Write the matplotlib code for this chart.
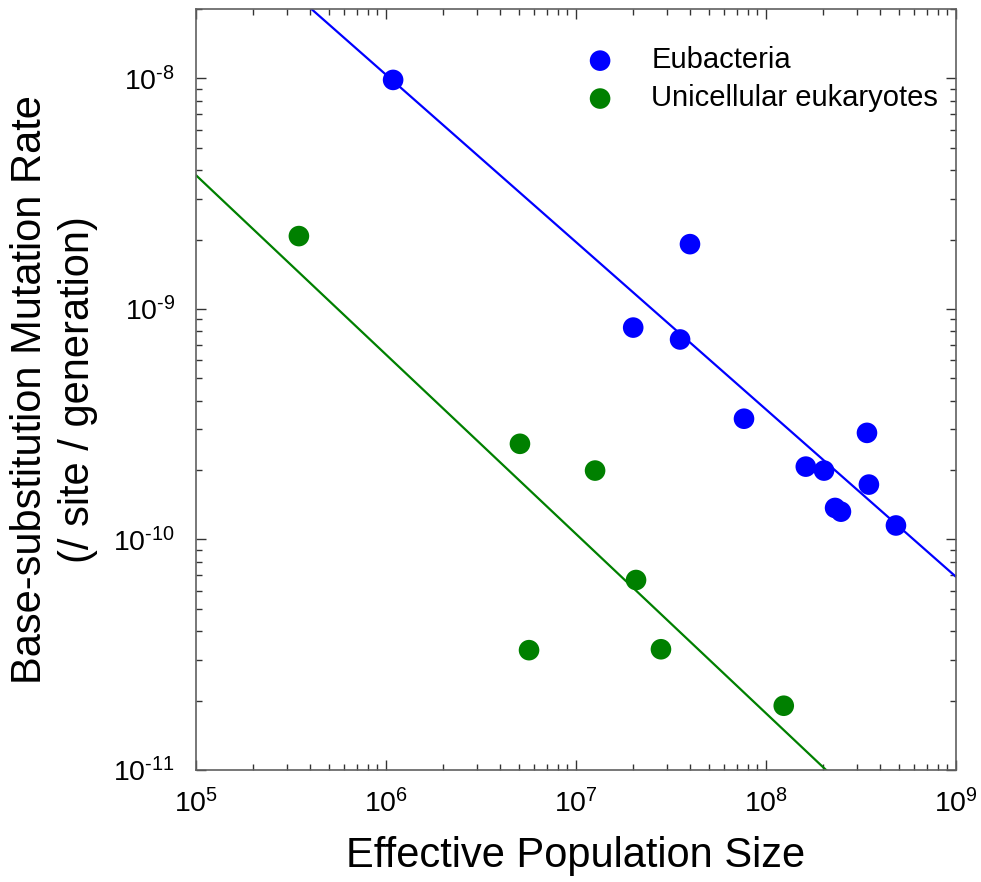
import numpy as np
import matplotlib
matplotlib.use("Agg")
import matplotlib.pyplot as plt
from matplotlib.ticker import NullFormatter, FuncFormatter

plt.rcParams['font.family'] = ['Liberation Sans', 'DejaVu Sans']
plt.rcParams['mathtext.fontset'] = 'custom'
plt.rcParams['mathtext.rm'] = 'Liberation Sans'
plt.rcParams['mathtext.it'] = 'Liberation Sans:italic'
plt.rcParams['mathtext.bf'] = 'Liberation Sans:bold'

# data
bact_ne = [1.09e6, 3.98e7, 2.0e7, 3.53e7, 7.66e7, 3.40e8, 1.62e8, 2.02e8, 3.48e8, 2.31e8, 2.48e8, 4.83e8]
bact_u = [9.85e-9, 1.91e-9, 8.3e-10, 7.37e-10, 3.34e-10, 2.9e-10, 2.07e-10, 1.99e-10, 1.73e-10, 1.37e-10, 1.32e-10, 1.15e-10]

euk_ne = [3.48e5, 5.07e6, 1.26e7, 2.07e7, 5.66e6, 2.8e7, 1.24e8]
euk_u = [2.07e-9, 2.6e-10, 1.99e-10, 6.67e-11, 3.31e-11, 3.34e-11, 1.9e-11]

# fitted lines: log10(u) = intercept + slope * log10(Ne)
bact_fit = (-3.628, -0.726)
euk_fit = (-4.53, -0.778)

XLIM = (1e5, 1e9)
YLIM = (1e-11, 2.0e-8)


def pow10(v, pos):
    e = int(round(np.log10(v)))
    if e < 0:
        return r'$\mathregular{10^{\text{-}%d}}$' % (-e)
    return r'$\mathregular{10^{%d}}$' % e


fig = plt.figure(figsize=(9.81, 8.82), dpi=100)
ax = fig.add_axes([196 / 981, 112 / 882, 760 / 981, 761 / 882])

xs = np.logspace(5, 9, 200)
for fit, col in [(bact_fit, 'blue'), (euk_fit, 'green')]:
    ax.plot(xs, 10 ** (fit[0] + fit[1] * np.log10(xs)), color=col, lw=1.6, zorder=2)

ax.scatter(bact_ne, bact_u, s=220, color='blue', edgecolors='none', zorder=3, label='Eubacteria')
ax.scatter(euk_ne, euk_u, s=220, color='green', edgecolors='none', zorder=3, label='Unicellular eukaryotes')

ax.set_xscale('log')
ax.set_yscale('log')
ax.set_xlim(XLIM)
ax.set_ylim(YLIM)

for sp in ax.spines.values():
    sp.set_color('#606060')
    sp.set_linewidth(1.2)
ax.tick_params(which='both', direction='in', top=True, right=True, colors='#333333')
ax.tick_params(which='major', length=7, width=1, labelsize=20.5, labelcolor='black')
ax.tick_params(which='minor', length=4, width=1)
ax.tick_params(axis='x', which='major', pad=13.5)
ax.tick_params(axis='y', which='major', pad=15)
ax.xaxis.set_major_formatter(FuncFormatter(pow10))
ax.yaxis.set_major_formatter(FuncFormatter(pow10))
ax.xaxis.set_minor_formatter(NullFormatter())
ax.yaxis.set_minor_formatter(NullFormatter())

ax.set_xlabel('Effective Population Size', fontsize=30, labelpad=13)
ax.set_ylabel('Base-substitution Mutation Rate\n(/ site / generation)', fontsize=30,
              labelpad=11, linespacing=1.27)

ax.legend(loc='upper left', bbox_to_anchor=(0.5125, 0.951), frameon=False, fontsize=21,
          handlelength=1.0, handletextpad=1.25, labelspacing=0.34, borderpad=0, borderaxespad=0)

fig.savefig('out.png', dpi=100)
